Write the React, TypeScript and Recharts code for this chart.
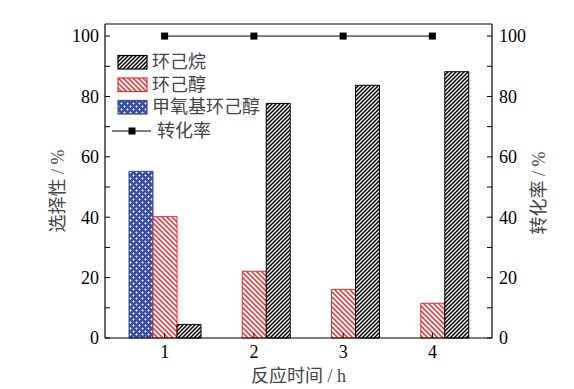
import React from "react";
import {
  ComposedChart,
  Bar,
  Line,
  XAxis,
  YAxis,
  ReferenceLine,
} from "recharts";

const hours = ["1", "2", "3", "4"];
const methoxy = [55.2, 0, 0, 0];
const cyclohexanol = [40.2, 22.1, 16.1, 11.5];
const cyclohexane = [4.5, 77.7, 83.7, 88.2];
const conversion = [100, 100, 100, 100];
const yTicks = [0, 10, 20, 30, 40, 50, 60, 70, 80, 90, 100];

const data = hours.map((h, i) => ({
  h,
  methoxy: methoxy[i] || null,
  ol: cyclohexanol[i],
  ane: cyclohexane[i],
  conv: conversion[i],
}));

const SERIF = "'Liberation Serif', 'Times New Roman', serif";
const CJK = "'Liberation Serif', 'Noto Sans CJK SC', serif";
const BLUE = "#3a4da6";
const RED = "#ee2a2a";
const TITLE = "#444";

/** y-axis tick with inward major/minor marks */
function YTick(props: any) {
  const { x, y, payload, side } = props;
  const v = payload.value as number;
  const major = v % 20 === 0;
  const m = side === "left" ? 6 : 7;
  const dir = side === "left" ? 1 : -1;
  const ax = x + dir * m;
  return (
    <g>
      <line x1={ax} x2={ax + dir * 5} y1={y} y2={y} stroke="#000" strokeWidth={1} />
      {major && (
        <text
          x={x}
          y={y}
          dy="0.35em"
          textAnchor={side === "left" ? "end" : "start"}
          fontFamily={SERIF}
          fontSize={18}
          fill="#000"
        >
          {v}
        </text>
      )}
    </g>
  );
}

function SquareDot(props: any) {
  const { cx, cy } = props;
  if (cx == null || cy == null) return null;
  return <rect x={cx - 3.5} y={cy - 3.5} width={7} height={7} fill="#000" />;
}

function YTitle({ viewBox, text, dx = 0, dy = 0 }: any) {
  const cx = viewBox.x + viewBox.width / 2 + dx;
  const cy = viewBox.y + viewBox.height / 2 + dy;
  return (
    <text
      x={cx}
      y={cy}
      textAnchor="middle"
      dominantBaseline="central"
      transform={`rotate(-90, ${cx}, ${cy})`}
      fontFamily={CJK}
      fontSize={18}
      fill={TITLE}
    >
      {text}
    </text>
  );
}

function XTitle({ viewBox, text }: any) {
  const cx = viewBox.x + viewBox.width / 2;
  return (
    <text
      x={cx}
      y={viewBox.y + 44}
      textAnchor="middle"
      fontFamily={CJK}
      fontSize={18}
      fill={TITLE}
    >
      {text}
    </text>
  );
}

function LegendBox() {
  const rows = [
    { label: "环己烷", fill: "url(#hatchBlack)", stroke: "#000" },
    { label: "环己醇", fill: "url(#hatchRed)", stroke: RED },
    { label: "甲氧基环己醇", fill: "url(#crossBlue)", stroke: BLUE },
  ];
  return (
    <g fontFamily={CJK} fontSize={18} fill={TITLE}>
      {rows.map((r, i) => (
        <g key={r.label}>
          <rect x={118} y={55.5 + i * 22.5} width={29} height={13.5} fill={r.fill} stroke={r.stroke} strokeWidth={1.2} />
          <text x={152} y={62 + i * 22.5} dominantBaseline="central">
            {r.label}
          </text>
        </g>
      ))}
      <line x1={112} x2={151} y1={131} y2={131} stroke="#000" strokeWidth={1} />
      <rect x={128.5} y={127.5} width={7} height={7} fill="#000" />
      <text x={157} y={131} dominantBaseline="central">
        转化率
      </text>
    </g>
  );
}

export default function App() {
  return (
    <div>
      <style>{`body{margin:0}`}</style>
      <ComposedChart
        width={574}
        height={389}
        data={data}
        margin={{ top: 24, right: 0, left: 0, bottom: 0 }}
        barGap={0}
        barSize={24}
      >
        <defs>
          <pattern id="hatchBlack" patternUnits="userSpaceOnUse" width={4} height={4}>
            <rect width={4} height={4} fill="#fff" />
            <path d="M-1,1 l2,-2 M0,4 l4,-4 M3,5 l2,-2" stroke="#000" strokeWidth={1.5} />
          </pattern>
          <pattern id="hatchRed" patternUnits="userSpaceOnUse" width={5} height={5}>
            <rect width={5} height={5} fill="#fff" />
            <path d="M-1,4 l2,2 M0,0 l5,5 M4,-1 l2,2" stroke={RED} strokeWidth={1.5} />
          </pattern>
          <pattern id="crossBlue" patternUnits="userSpaceOnUse" width={6} height={6}>
            <rect width={6} height={6} fill={BLUE} />
            <path d="M1.5,0.5 v2 M0.5,1.5 h2 M4.5,3.5 v2 M3.5,4.5 h2" stroke="#fff" strokeWidth={1} />
          </pattern>
        </defs>
        <XAxis
          dataKey="h"
          height={51}
          padding={{ left: 15, right: 15 }}
          axisLine={{ stroke: "#000", strokeWidth: 1.2 }}
          tickLine={{ stroke: "#000" }}
          tickSize={-5}
          tickMargin={12}
          tick={{ fontFamily: SERIF, fontSize: 18, fill: "#000" }}
          label={(p: any) => <XTitle {...p} text="反应时间 / h" />}
        />
        <YAxis
          yAxisId="left"
          orientation="left"
          width={105}
          domain={[0, 104]}
          ticks={yTicks}
          interval={0}
          tickSize={0}
          tickMargin={6}
          tickLine={false}
          axisLine={{ stroke: "#000", strokeWidth: 1.2 }}
          tick={(p: any) => <YTick {...p} side="left" />}
          label={(p: any) => <YTitle {...p} text="选择性 / %" dx={5} dy={10} />}
        />
        <YAxis
          yAxisId="right"
          orientation="right"
          width={82}
          domain={[0, 104]}
          ticks={yTicks}
          interval={0}
          tickSize={0}
          tickMargin={7}
          tickLine={false}
          axisLine={{ stroke: "#000", strokeWidth: 1.2 }}
          tick={(p: any) => <YTick {...p} side="right" />}
          label={(p: any) => <YTitle {...p} text="转化率 / %" dx={6} dy={12} />}
        />
        <ReferenceLine yAxisId="left" y={104} stroke="#000" strokeWidth={1.2} />
        <Bar yAxisId="left" dataKey="methoxy" fill="url(#crossBlue)" stroke={BLUE} strokeWidth={1} isAnimationActive={false} />
        <Bar yAxisId="left" dataKey="ol" fill="url(#hatchRed)" stroke={RED} strokeWidth={1} isAnimationActive={false} />
        <Bar yAxisId="left" dataKey="ane" fill="url(#hatchBlack)" stroke="#000" strokeWidth={1} isAnimationActive={false} />
        <Line
          yAxisId="right"
          dataKey="conv"
          stroke="#000"
          strokeWidth={1}
          dot={<SquareDot />}
          activeDot={false}
          isAnimationActive={false}
        />
        <LegendBox />
      </ComposedChart>
    </div>
  );
}
